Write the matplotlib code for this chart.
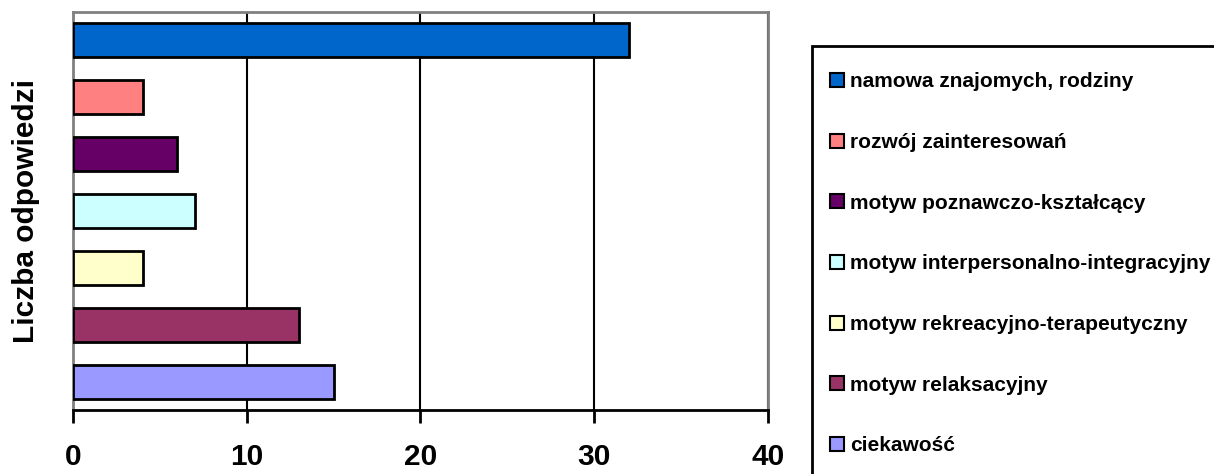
import numpy as np
import matplotlib.pyplot as plt
from matplotlib.patches import Patch, Rectangle

plt.rcParams['font.family'] = ['Liberation Sans', 'DejaVu Sans']
plt.rcParams['font.weight'] = 'bold'

# Data (top to bottom)
categories = ["namowa znajomych, rodziny", "rozwój zainteresowań",
              "motyw poznawczo-kształcący", "motyw interpersonalno-integracyjny",
              "motyw rekreacyjno-terapeutyczny", "motyw relaksacyjny", "ciekawość"]
values = [32, 4, 6, 7, 4, 13, 15]
colors = ["#0066CC", "#FF8080", "#660066", "#CCFFFF", "#FFFFCC", "#993366", "#9999FF"]
xticks = [0, 10, 20, 30, 40]

fig = plt.figure(figsize=(12.14, 4.74), dpi=100)
ax = fig.add_axes([73 / 1214, 1 - 410 / 474, (768 - 73) / 1214, (410 - 12) / 474])

y = np.arange(len(categories))
ax.barh(y, values, height=0.6, color=colors, edgecolor="black", linewidth=2, zorder=3)

ax.set_xlim(0, 40)
ax.set_ylim(len(categories) - 0.5, -0.5)
ax.set_xticks(xticks)
ax.set_xticklabels([str(t) for t in xticks], fontsize=21.5, fontweight="bold")
ax.set_yticks([])
ax.tick_params(axis="x", direction="out", length=9, width=2, pad=15)
ax.grid(axis="x", color="black", linewidth=1.5, zorder=1)

for s in ["top", "right", "left"]:
    ax.spines[s].set_color("#808080")
    ax.spines[s].set_linewidth(2)
ax.spines["bottom"].set_color("black")
ax.spines["bottom"].set_linewidth(2)
ax.spines["bottom"].set_zorder(4)

ax.set_ylabel("Liczba odpowiedzi", fontsize=21.5, fontweight="bold", labelpad=24)

# legend
handles = [Patch(facecolor=c, edgecolor="black", linewidth=1.5) for c in colors]
fig.legend(handles, categories, loc="upper left", bbox_to_anchor=(820 / 1214, 1 - 62 / 474),
           frameon=False, prop={"size": 15, "weight": "bold"}, handlelength=0.65,
           handleheight=0.65, handletextpad=0.3, labelspacing=2.0, borderpad=0)

# legend box (cut off by the image edge)
fig.patches.append(Rectangle((812 / 1214, -0.1), 0.5, 1 - 46 / 474 + 0.1, fill=False,
                             edgecolor="black", linewidth=2, transform=fig.transFigure))

fig.savefig("out.png", dpi=100)
